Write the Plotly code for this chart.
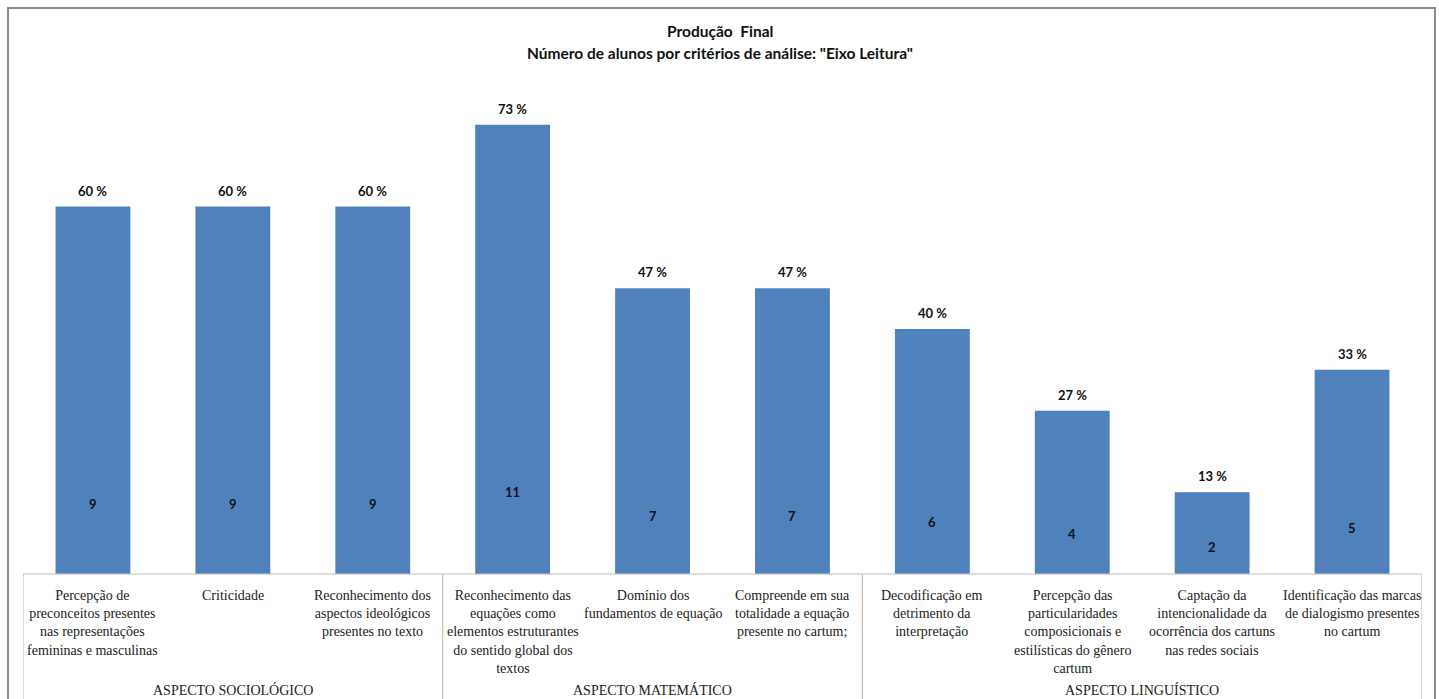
import plotly.graph_objects as go

# Data: number of students per analysis criterion (total of 15 students)
criteria = [
    "Percepção de<br>preconceitos presentes<br>nas representações<br>femininas e masculinas",
    "Criticidade",
    "Reconhecimento dos<br>aspectos ideológicos<br>presentes no texto",
    "Reconhecimento das<br>equações como<br>elementos estruturantes<br>do sentido global dos<br>textos",
    "Domínio dos<br>fundamentos de equação",
    "Compreende em sua<br>totalidade a equação<br>presente no cartum;",
    "Decodificação em<br>detrimento da<br>interpretação",
    "Percepção das<br>particularidades<br>composicionais e<br>estilísticas do gênero<br>cartum",
    "Captação da<br>intencionalidade da<br>ocorrência dos cartuns<br>nas redes sociais",
    "Identificação das marcas<br>de dialogismo presentes<br>no cartum",
]
students = [9, 9, 9, 11, 7, 7, 6, 4, 2, 5]
percent = [60, 60, 60, 73, 47, 47, 40, 27, 13, 33]
groups = ["ASPECTO SOCIOLÓGICO", "ASPECTO MATEMÁTICO", "ASPECTO LINGUÍSTICO"]
group_sizes = [3, 3, 4]

W, H = 1439, 699
ML, MR, MT, MB = 23, 17, 84, 125
PW, PH = W - ML - MR, H - MT - MB

LABEL_FONT = "Liberation Sans Narrow, Arial Narrow, Lato, sans-serif"
SERIF = "Liberation Serif, Times New Roman, serif"


def px_x(px):
    return (px - ML) / PW


def px_y(py):
    return (H - MB - py) / PH


xs = list(range(len(criteria)))

fig = go.Figure()
fig.add_trace(go.Bar(
    x=xs,
    y=students,
    width=0.535,
    marker=dict(color="#4F81BD", line=dict(width=0)),
    hoverinfo="skip",
))

annotations = []
# Percentage labels above bars, counts inside bars
for i, (n, p) in enumerate(zip(students, percent)):
    annotations.append(dict(
        x=i, y=n, xref="x", yref="y", text=f"<b>{p} %</b>",
        showarrow=False, yanchor="bottom", yshift=6,
        font=dict(family=LABEL_FONT, size=13, color="#111111"),
    ))
    annotations.append(dict(
        x=i, y=0.15 * n + 0.37, xref="x", yref="y", text=f"<b>{n}</b>",
        showarrow=False, yanchor="middle",
        font=dict(family=LABEL_FONT, size=13, color="#111111"),
    ))

# Category labels below the axis
for i, label in enumerate(criteria):
    annotations.append(dict(
        x=i, y=px_y(586), xref="x", yref="paper", text=label,
        showarrow=False, yanchor="top", align="center",
        font=dict(family=SERIF, size=14, color="#222222"),
    ))

# Group labels and separators
shapes = []
start = 0
bounds = [-0.5]
for g, size in zip(groups, group_sizes):
    center = start + (size - 1) / 2
    annotations.append(dict(
        x=center, y=px_y(690), xref="x", yref="paper", text=g,
        showarrow=False, yanchor="middle",
        font=dict(family=SERIF, size=14, color="#222222"),
    ))
    start += size
    bounds.append(start - 0.5)

for b in bounds:
    shapes.append(dict(
        type="line", xref="x", yref="paper", x0=b, x1=b,
        y0=0, y1=px_y(710), line=dict(color="#BFBFBF", width=1.2),
    ))
shapes.append(dict(
    type="line", xref="x", yref="paper", x0=-0.5, x1=len(criteria) - 0.5,
    y0=0, y1=0, line=dict(color="#BFBFBF", width=1.2),
))

# Chart-area frame
shapes.append(dict(
    type="rect", xref="paper", yref="paper",
    x0=px_x(8), x1=px_x(1435), y0=px_y(8), y1=px_y(720),
    line=dict(color="#8C8C8C", width=2), fillcolor="rgba(0,0,0,0)",
))

# Title lines
annotations.append(dict(
    x=px_x(W / 2), y=px_y(31), xref="paper", yref="paper",
    text="<b>Produção\u00a0 Final</b>", showarrow=False, yanchor="middle",
    font=dict(family=LABEL_FONT, size=15.5, color="#111111"),
))
annotations.append(dict(
    x=px_x(W / 2), y=px_y(53), xref="paper", yref="paper",
    text="<b>Número de alunos por critérios de análise: \"Eixo Leitura\"</b>",
    showarrow=False, yanchor="middle",
    font=dict(family=LABEL_FONT, size=15.5, color="#111111"),
))

fig.update_layout(
    width=W, height=H,
    margin=dict(l=ML, r=MR, t=MT, b=MB, pad=0),
    paper_bgcolor="white", plot_bgcolor="white",
    showlegend=False,
    xaxis=dict(range=[-0.5, len(criteria) - 0.5], showticklabels=False,
               showgrid=False, zeroline=False, showline=False, ticks=""),
    yaxis=dict(range=[0, 12], visible=False, showgrid=False, zeroline=False),
    annotations=annotations,
    shapes=shapes,
)

fig.write_html("out.html")
